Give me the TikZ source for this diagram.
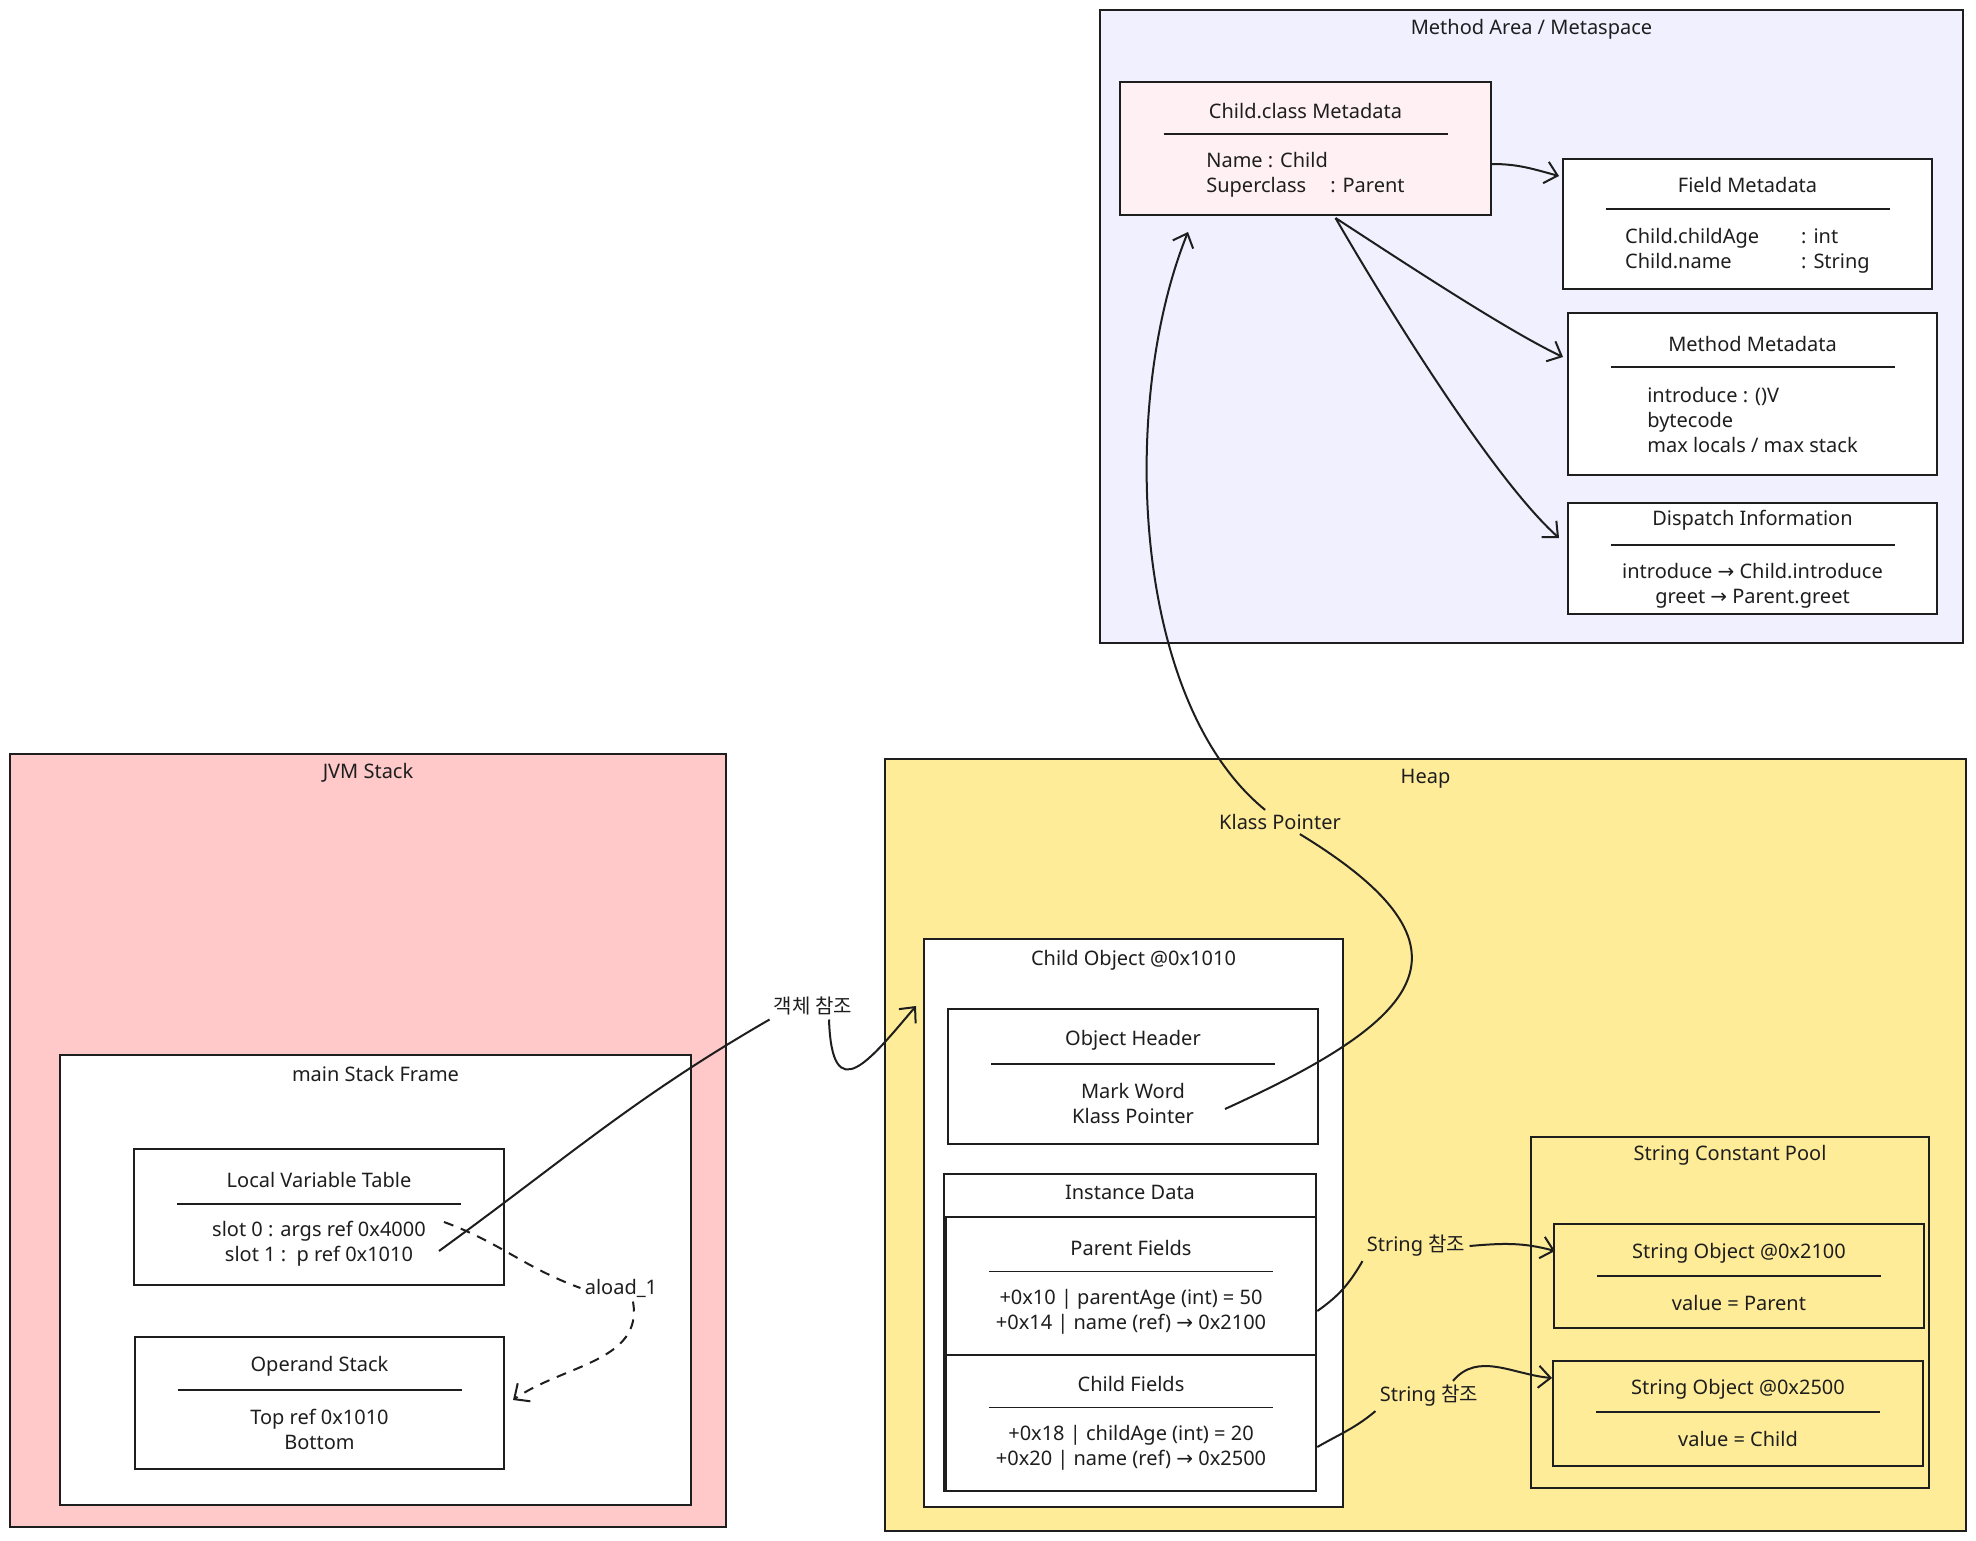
\documentclass[tikz,border=0pt]{standalone}
\usepackage{fontspec}
\setmainfont{Noto Sans}
\newfontfamily\krfont{Noto Sans CJK KR}
\newfontfamily\arrfont{DejaVu Sans}
\usepackage{tikz}
\usetikzlibrary{arrows.meta,positioning,calc}
\usepackage{xcolor}
\definecolor{ink}{HTML}{1E1E1E}
\definecolor{metaBg}{HTML}{F1F0FF}
\definecolor{classBg}{HTML}{FFF0F3}
\definecolor{stackBg}{HTML}{FFC9C9}
\definecolor{heapBg}{HTML}{FFEC99}
\newcommand{\goesto}{{\arrfont →}}

\begin{document}
\begin{tikzpicture}[x=0.5pt, y=-0.5pt, font=\fontsize{10}{12.5}\selectfont, color=ink,
    region/.style={draw=ink, line width=1pt, inner sep=0pt},
    box/.style={draw=ink, fill=white, line width=1pt, inner sep=0pt},
    ttl/.style={inner sep=1pt},
    body/.style={inner sep=0pt, align=left},
    sep/.style={draw=ink, line width=0.6pt},
    lbl/.style={inner sep=2pt},
    link/.style={draw=ink, line width=1pt, -{Straight Barb[length=6pt,width=11pt]}}]
    \useasboundingbox (0,0) rectangle (1976,1541);

    \node[region, fill=metaBg, minimum width=431.5pt, minimum height=316.5pt] (meta) at (1531.5,326.5) {};
    \node[ttl] (metaT) at ([yshift=-10pt]meta.north) {Method Area / Metaspace};

    \node[box, fill=classBg, minimum width=185.5pt, minimum height=66.5pt] (cls) at (1305.5,148.5) {};
    \node[ttl] (clsT) at ([yshift=-15pt]cls.north) {Child.class Metadata};
    \draw[sep] ([xshift=-71pt,yshift=-26.5pt]cls.north) -- ++(142pt,0);
    \node[body] (clsB) at ([yshift=-46.75pt]cls.north) {Name : Child\\\makebox[62pt][l]{Superclass}: Parent};

    \node[box, minimum width=184.5pt, minimum height=65pt] (field) at (1747.5,224) {};
    \node[ttl] (fieldT) at ([yshift=-13.5pt]field.north) {Field Metadata};
    \draw[sep] ([xshift=-71pt,yshift=-25.5pt]field.north) -- ++(142pt,0);
    \node[body] (fieldB) at ([yshift=-46.25pt]field.north) {\makebox[88pt][l]{Child.childAge}: int\\\makebox[88pt][l]{Child.name}: String};

    \node[box, minimum width=184.5pt, minimum height=81pt] (method) at (1752.5,394) {};
    \node[ttl] (methodT) at ([yshift=-16pt]method.north) {Method Metadata};
    \draw[sep] ([xshift=-71pt,yshift=-27.5pt]method.north) -- ++(142pt,0);
    \node[body] (methodB) at ([yshift=-54pt]method.north) {introduce : ()V\\bytecode\\max locals / max stack};

    \node[box, minimum width=184.5pt, minimum height=55.5pt] (disp) at (1752.5,558.5) {};
    \node[ttl] (dispT) at ([yshift=-9pt]disp.north) {Dispatch Information};
    \draw[sep] ([xshift=-71pt,yshift=-21.5pt]disp.north) -- ++(142pt,0);
    \node[body, align=center] (dispB) at ([yshift=-41.75pt]disp.north) {introduce \goesto{} Child.introduce\\greet \goesto{} Parent.greet};

    \node[region, fill=stackBg, minimum width=358pt, minimum height=386.5pt] (jvm) at (368,1140.5) {};
    \node[ttl] (jvmT) at ([yshift=-10pt]jvm.north) {JVM Stack};

    \node[box, minimum width=315.5pt, minimum height=225pt] (frame) at (375.5,1280) {};
    \node[ttl] (frameT) at ([yshift=-10pt]frame.north) {main Stack Frame};

    \node[box, minimum width=185pt, minimum height=68pt] (lvt) at (319,1217) {};
    \node[ttl] (lvtT) at ([yshift=-16pt]lvt.north) {Local Variable Table};
    \draw[sep] ([xshift=-71pt,yshift=-28pt]lvt.north) -- ++(142pt,0);
    \node[body, align=center] (lvtB) at ([yshift=-47.75pt]lvt.north) {slot 0 : args ref 0x4000\\slot 1 :\ \ p ref 0x1010};

    \node[box, minimum width=184.5pt, minimum height=66pt] (opst) at (319.5,1403) {};
    \node[ttl] (opstT) at ([yshift=-15pt]opst.north) {Operand Stack};
    \draw[sep] ([xshift=-71pt,yshift=-27pt]opst.north) -- ++(142pt,0);
    \node[body, align=center] (opstB) at ([yshift=-46.75pt]opst.north) {Top ref 0x1010\\Bottom};

    \node[region, fill=heapBg, minimum width=540.5pt, minimum height=386pt] (heap) at (1425.5,1145) {};
    \node[ttl] (heapT) at ([yshift=-10.5pt]heap.north) {Heap};

    \node[box, minimum width=209.5pt, minimum height=284pt] (chobj) at (1133.5,1223) {};
    \node[ttl] (chobjT) at ([yshift=-11pt]chobj.north) {Child Object @0x1010};

    \node[box, minimum width=185pt, minimum height=67.5pt] (hdr) at (1133,1076.5) {};
    \node[ttl] (hdrT) at ([yshift=-16pt]hdr.north) {Object Header};
    \draw[sep] ([xshift=-71pt,yshift=-28pt]hdr.north) -- ++(142pt,0);
    \node[body, align=center] (hdrB) at ([yshift=-47.75pt]hdr.north) {Mark Word\\Klass Pointer};

    \node[box, minimum width=186pt, minimum height=158.5pt] (inst) at (1130,1332.5) {};
    \node[ttl] (instT) at ([yshift=-9.5pt]inst.north) {Instance Data};

    \node[box, line width=1.3pt, minimum width=185pt, minimum height=69pt] (pfld) at (1131,1286) {};
    \node[ttl] (pfldT) at ([yshift=-16pt]pfld.north) {Parent Fields};
    \draw[sep] ([xshift=-71pt,yshift=-28pt]pfld.north) -- ++(142pt,0);
    \node[body, align=center] (pfldB) at ([yshift=-48.25pt]pfld.north) {+0x10 | parentAge (int) = 50\\+0x14 | name (ref) \goesto{} 0x2100};

    \node[box, line width=1.3pt, minimum width=185pt, minimum height=68pt] (cfld) at (1131,1423) {};
    \node[ttl] (cfldT) at ([yshift=-15pt]cfld.north) {Child Fields};
    \draw[sep] ([xshift=-71pt,yshift=-27pt]cfld.north) -- ++(142pt,0);
    \node[body, align=center] (cfldB) at ([yshift=-47.25pt]cfld.north) {+0x18 | childAge (int) = 20\\+0x20 | name (ref) \goesto{} 0x2500};

    \node[region, minimum width=199pt, minimum height=175.5pt] (pool) at (1730,1312.5) {};
    \node[ttl] (poolT) at ([yshift=-9.5pt]pool.north) {String Constant Pool};

    \node[region, minimum width=185pt, minimum height=52pt] (s2100) at (1739,1276) {};
    \node[ttl] (s2100T) at ([yshift=-15pt]s2100.north) {String Object @0x2100};
    \draw[sep] ([xshift=-71pt,yshift=-26.5pt]s2100.north) -- ++(142pt,0);
    \node[body] (s2100B) at ([yshift=-40pt]s2100.north) {value = Parent};

    \node[region, minimum width=185pt, minimum height=52.5pt] (s2500) at (1738,1413.5) {};
    \node[ttl] (s2500T) at ([yshift=-14.5pt]s2500.north) {String Object @0x2500};
    \draw[sep] ([xshift=-71pt,yshift=-26pt]s2500.north) -- ++(142pt,0);
    \node[body] (s2500B) at ([yshift=-39.5pt]s2500.north) {value = Child};

    \node[lbl, fill=heapBg] (klassLbl) at (1280,822) {Klass Pointer};
    \node[lbl, fill=white] (objLbl) at (813,1006) {\krfont 객체 참조};
    \node[lbl, fill=white] (aloadLbl) at (621,1288) {aload\_1};
    \node[lbl, fill=heapBg] (str1Lbl) at (1416,1246) {String {\krfont 참조}};
    \node[lbl, fill=heapBg] (str2Lbl) at (1429,1396) {String {\krfont 참조}};

    \coordinate (kpStart) at ([xshift=46pt,yshift=-16.25pt]hdr.center);
    \coordinate (p1010) at ([xshift=60pt,yshift=-17pt]lvt.center);
    \coordinate (p4000) at ([xshift=62.5pt,yshift=-2.5pt]lvt.center);

    \draw[link] ([yshift=-7.75pt]cls.east) to[out=0,in=165] ([xshift=-1.5pt,yshift=24pt]field.west);
    \draw[link] ([xshift=15pt,yshift=-1pt]cls.south) to[out=-33,in=155,looseness=0.6] ([xshift=-2pt,yshift=18.5pt]method.west);
    \draw[link] ([xshift=15pt,yshift=-1pt]cls.south) to[out=-60,in=138,looseness=0.6] ([xshift=-4pt,yshift=10.25pt]disp.west);
    \draw[link] (kpStart) .. controls (1420,1020) and (1490,950) .. (klassLbl) .. controls (1130,700) and (1120,400) .. ([xshift=-58.75pt,yshift=-8pt]cls.south);
    \draw[link] (p1010) to[out=36,in=-150] (objLbl.south west) ([xshift=8pt]objLbl.south) .. controls (832,1110) and (870,1060) .. ([xshift=-3.5pt,yshift=108.5pt]chobj.west);
    \draw[link, dash pattern=on 5pt off 4pt] (p4000) to[out=-20,in=160] (aloadLbl.west) ([xshift=6pt]aloadLbl.south) to[out=-80,in=35] ([xshift=4pt,yshift=1.5pt]opst.east);
    \draw[link] ([yshift=-12.5pt]pfld.east) to[out=35,in=-120] (str1Lbl.south west) (str1Lbl.east) to[out=5,in=165] ([xshift=1pt,yshift=12.5pt]s2100.west);
    \draw[link] ([yshift=-12pt]cfld.east) to[out=30,in=-140] (str2Lbl.south west) ([xshift=12pt]str2Lbl.north) to[out=50,in=175] ([xshift=0pt,yshift=17.75pt]s2500.west);
\end{tikzpicture}
\end{document}
